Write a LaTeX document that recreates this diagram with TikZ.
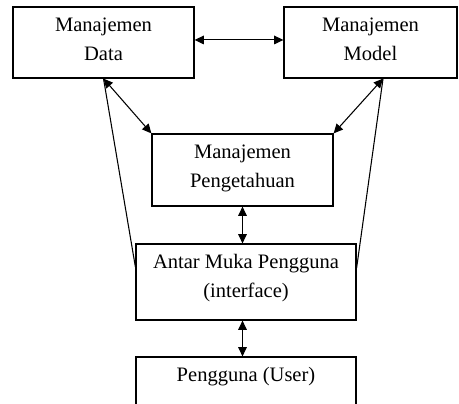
\documentclass[tikz,border=0pt]{standalone}
\usepackage{fontspec}
\setmainfont{Liberation Serif}
\usetikzlibrary{arrows.meta,positioning}
\begin{document}
\begin{tikzpicture}[x=0.75pt,y=-0.75pt,
        kotak/.style={draw, line width=0.9pt, inner sep=0pt},
        teks/.style={align=center, inner sep=0pt, font=\fontsize{15.4}{21.75}\selectfont},
        panah/.style={{Triangle[length=7pt,width=6.5pt]}-{Triangle[length=7pt,width=6.5pt]}, line width=0.8pt},
        garis/.style={line width=0.8pt}]
    \useasboundingbox (0,0) rectangle (459,403);
    \clip (0,0) rectangle (459,403);
    \node[kotak, minimum width=135.75pt, minimum height=53.25pt] (data) at (103.5,42.5) {};
    \node[kotak, minimum width=129.75pt, minimum height=53.25pt] (model) at (370.5,42.5) {};
    \node[kotak, minimum width=135.75pt, minimum height=54pt] (peng) at (242.5,170) {};
    \node[kotak, minimum width=165pt, minimum height=57pt] (antar) at (246,282) {};
    \node[kotak, minimum width=165pt, minimum height=57pt] (user) at (246,395) {};
    \node[teks, below=8.25pt of data.north] (data-t) {Manajemen\\Data};
    \node[teks, below=8.25pt of model.north] (model-t) {Manajemen\\Model};
    \node[teks, below=8.25pt of peng.north] (peng-t) {Manajemen\\Pengetahuan};
    \node[teks, below=8.25pt of antar.north] (antar-t) {Antar Muka Pengguna\\(interface)};
    \node[teks, below=8.25pt of user.north] (user-t) {Pengguna (User)};
    \draw[panah] ([yshift=1.9pt]data.east) -- ([yshift=1.9pt]model.west);
    \draw[panah] (data.south) -- (peng.north west);
    \draw[garis] (data.south) -- ([yshift=11.25pt]antar.west);
    \draw[panah] ([xshift=9.4pt]model.south) -- (peng.north east);
    \draw[garis] ([xshift=9.4pt]model.south) -- ([yshift=10.5pt]antar.east);
    \draw[panah] (peng.south) -- (peng.south |- antar.north);
    \draw[panah] (peng.south |- antar.south) -- (peng.south |- user.north);
\end{tikzpicture}
\end{document}
